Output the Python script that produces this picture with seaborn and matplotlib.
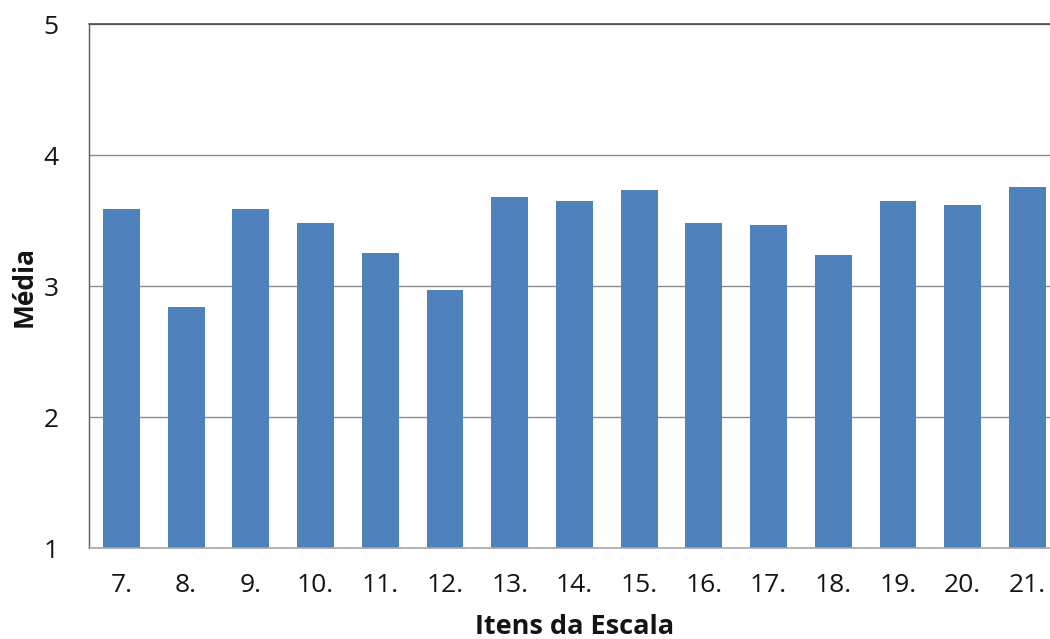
import matplotlib
matplotlib.use("Agg")
import matplotlib.pyplot as plt
import seaborn as sns
import pandas as pd

# Item labels and mean scores
itens = ["7.", "8.", "9.", "10.", "11.", "12.", "13.", "14.", "15.",
         "16.", "17.", "18.", "19.", "20.", "21."]
medias = [3.59, 2.84, 3.59, 3.48, 3.25, 2.97, 3.68, 3.65, 3.73,
          3.48, 3.47, 3.24, 3.65, 3.62, 3.76]
y_ticks = [1, 2, 3, 4, 5]

sns.set_theme(style="white")
plt.rcParams["font.family"] = ["Open Sans", "DejaVu Sans"]

df = pd.DataFrame({"item": itens, "media": medias})

fig = plt.figure(figsize=(10.5, 6.39), dpi=100)
ax = fig.add_axes([0.0848, 0.1419, 0.9245, 0.8205])

sns.barplot(data=df, x="item", y="media", color="#4F81BD", saturation=1,
            width=0.57, ax=ax)
for p in ax.patches:
    p.set_edgecolor("none")

ax.set_ylim(1, 5)
ax.set_xlim(-0.5, len(itens) - 0.5)
ax.set_yticks(y_ticks)
ax.set_yticklabels([str(t) for t in y_ticks])

ax.yaxis.grid(True, color="#8C8C8C", linewidth=1.0)
ax.set_axisbelow(True)

for side in ["top", "right"]:
    ax.spines[side].set_visible(False)
ax.spines["left"].set_color("#5A5A5A")
ax.spines["left"].set_linewidth(1.0)
ax.spines["bottom"].set_color("#A6A6A6")
ax.spines["bottom"].set_linewidth(1.2)
ax.axhline(5, color="#4A4A4A", linewidth=1.2, clip_on=False)

ax.tick_params(axis="y", length=0, pad=22, labelsize=19, labelcolor="#141414")
ax.tick_params(axis="x", length=0, pad=18, labelsize=19, labelcolor="#141414")

ax.set_xlabel("Itens da Escala", fontsize=19.5, fontweight="bold",
              labelpad=11, color="#141414")
ax.set_ylabel("Média", fontsize=19, fontweight="bold",
              labelpad=4, color="#141414")

fig.savefig("out.png", dpi=100)
